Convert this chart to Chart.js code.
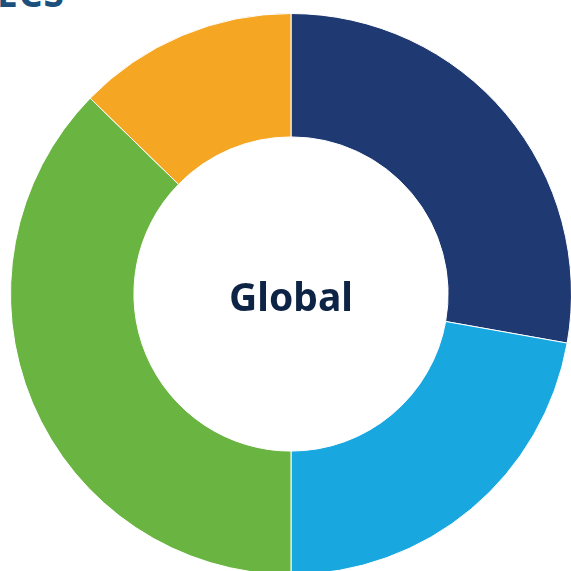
<!DOCTYPE html>
<html>
<head>
<meta charset="utf-8">
<script src="https://cdn.jsdelivr.net/npm/chart.js@4"></script>
<style>
  html, body { margin: 0; padding: 0; background: #fff; overflow: hidden; }
  body { width: 571px; height: 571px; position: relative; }
  #title { position: absolute; left: -3px; top: -33px; font: bold 37px "Noto Sans", sans-serif; color: #1b4f7c; letter-spacing: 1px; }
  #wrap { position: absolute; left: 10px; top: 13px; width: 562px; height: 562px; }
  #center { position: absolute; left: 191px; top: 269px; width: 200px; text-align: center; font: bold 39px "Noto Sans", sans-serif; color: #0d2444; }
</style>
</head>
<body>
<div id="title">ECS</div>
<div id="wrap"><canvas id="myChart" width="562" height="562"></canvas></div>
<div id="center">Global</div>
<script>
// regions, clockwise from 12 o'clock
const regions = ['Region A', 'Region B', 'Region C', 'Region D'];
const shares = [27.8, 22.2, 37.3, 12.7];
const colours = ['#1f3a72', '#19a7e0', '#6ab542', '#f5a623'];

let ctx = document.getElementById('myChart').getContext('2d');
let myChart = new Chart(ctx, {
    type: 'doughnut',
    data: {
        labels: regions,
        datasets: [{ data: shares, backgroundColor: colours, borderColor: '#fff', borderWidth: 1 }]
    },
    options: {
        responsive: false,
        animation: false,
        cutout: '56%',
        layout: { padding: 0 },
        plugins: { legend: { display: false }, tooltip: { enabled: false } }
    }
});
</script>
</body>
</html>
